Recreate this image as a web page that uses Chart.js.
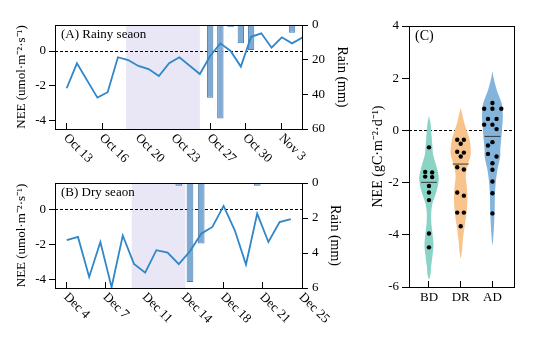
<!DOCTYPE html>
<html>
<head>
<meta charset="utf-8">
<script src="https://cdn.jsdelivr.net/npm/chart.js@4.4.1/dist/chart.umd.min.js"></script>
<style>
  html, body { margin: 0; padding: 0; background: #fff; }
  #wrap { position: relative; width: 554px; height: 339px; overflow: hidden; }
  canvas { position: absolute; }
</style>
</head>
<body>
<div id="wrap">
  <canvas id="rainy" width="360" height="170" style="left:0;top:0"></canvas>
  <canvas id="dry" width="360" height="169" style="left:0;top:170px"></canvas>
  <canvas id="violin" width="194" height="339" style="left:360px;top:0"></canvas>
</div>
<script>
// --- (A) rainy season, day 0 = Oct 13 ---
const rainyDays = [0, 1, 3, 4, 5, 6, 7, 8, 9, 10, 11, 13, 14, 15, 16, 17, 18, 19, 20, 21, 22, 23];
const rainyNEE = [-2.15, -0.71, -2.69, -2.38, -0.36, -0.52, -0.86, -1.04, -1.44, -0.71, -0.36,
                  -1.33, -0.29, 0.44, 0.0, -0.9, 0.82, 1.02, 0.19, 0.79, 0.44, 0.77];
const rainyRainDays = [13, 14, 15, 16, 17, 18, 22];
const rainyRain = [0.3, 42, 54, 1.3, 10.6, 14.4, 4.4];
const rainyTickDays = [0, 3.5, 7, 10.5, 14, 17.5, 21];
const rainyTickLabels = ['Oct 13', 'Oct 16', 'Oct 20', 'Oct 23', 'Oct 27', 'Oct 30', 'Nov 3'];
const rainyShade = [5.8, 13];

// --- (B) dry season, day 0 = Dec 4 ---
const dryDays = [0, 1, 2, 3, 4, 5, 6, 7, 8, 9, 10, 11, 12, 13, 14, 15, 16, 17, 18, 19, 20];
const dryNEE = [-1.77, -1.58, -3.87, -1.87, -4.45, -1.5, -3.12, -3.62, -2.34, -2.48, -3.14,
                -2.4, -1.4, -1.01, 0.19, -1.2, -3.16, -0.25, -1.87, -0.73, -0.57];
const dryRainDays = [10, 11, 12, 17];
const dryRain = [0.15, 5.65, 3.45, 0.15];
const dryTickDays = [0, 3.5, 7, 10.5, 14, 17.5, 21];
const dryTickLabels = ['Dec 4', 'Dec 7', 'Dec 11', 'Dec 14', 'Dec 18', 'Dec 21', 'Dec 25'];
const dryShade = [5.8, 10.6];

// --- (C) daily NEE by period ---
const groups = ['BD', 'DR', 'AD'];
const bdNEE = [-0.65, -1.59, -1.61, -1.77, -1.79, -2.13, -2.38, -2.67, -3.95, -4.48];
const bdJitter = [0, -0.12, 0.1, -0.12, 0.1, 0, 0, 0, 0, 0];
const drNEE = [-0.36, -0.36, -0.51, -0.82, -0.85, -1.0, -1.41, -1.5, -2.38, -2.5, -3.15, -3.15, -3.67];
const drJitter = [-0.11, 0.1, 0, -0.11, 0.1, 0, -0.11, 0.1, -0.11, 0.1, -0.11, 0.1, 0];
const adNEE = [1.05, 0.83, 0.83, 0.83, 0.44, 0.44, 0.22, 0.22, 0.05, -0.45, -0.58, -0.9, -1.0,
               -1.26, -1.51, -1.96, -2.41, -3.18];
const adJitter = [0, -0.26, 0, 0.28, -0.14, 0.13, -0.26, 0, 0.13, 0, -0.14, -0.14, 0.13,
                  0, 0, 0, 0, 0];
const medians = [-1.99, -1.29, -0.23];

// violin outlines: NEE levels and relative density (1 = widest)
const bdLevels = [0.57, 0.2, -0.3, -0.65, -0.9, -1.25, -1.6, -1.85, -2.1, -2.4, -2.8, -3.2, -3.6, -3.95, -4.4, -4.8, -5.2, -5.5, -5.7];
const bdDensity = [0, 0.17, 0.27, 0.34, 0.39, 0.63, 0.87, 0.95, 0.87, 0.68, 0.34, 0.21, 0.24, 0.34, 0.44, 0.34, 0.21, 0.15, 0];
const drLevels = [0.86, 0.6, 0.3, 0, -0.3, -0.6, -0.9, -1.2, -1.5, -1.8, -2.2, -2.7, -3.2, -3.7, -4.2, -4.6, -4.9];
const drDensity = [0, 0.17, 0.34, 0.58, 0.83, 0.95, 0.97, 0.78, 0.58, 0.49, 0.61, 0.65, 0.56, 0.37, 0.21, 0.13, 0];
const adLevels = [2.27, 1.95, 1.57, 1.31, 1.05, 0.8, 0.4, 0, -0.4, -0.75, -1.0, -1.5, -2.0, -2.5, -3.0, -3.5, -4.0, -4.4];
const adDensity = [0, 0.15, 0.41, 0.65, 0.89, 0.99, 1, 0.92, 0.84, 0.76, 0.76, 0.49, 0.32, 0.24, 0.22, 0.17, 0.1, 0];

const SERIF = '"Liberation Serif", "Times New Roman", serif';
Chart.defaults.font.family = SERIF;
Chart.defaults.font.size = 13;
Chart.defaults.color = '#000';

const LINE_BLUE = '#2f86c9';
const BAR_FILL = '#7eaad3';
const BAR_EDGE = '#4b7cab';

// shading, zero line, box frame, panel tag and slanted date labels
function panelDecor(cfg) {
  return {
    id: 'panelDecor',
    beforeDatasetsDraw(chart) {
      const {ctx, chartArea: a, scales} = chart;
      ctx.save();
      if (cfg.shade) {
        const x0 = scales.x.getPixelForValue(cfg.shade[0]);
        const x1 = scales.x.getPixelForValue(cfg.shade[1]);
        ctx.fillStyle = '#e9e7f5';
        ctx.fillRect(x0, a.top, x1 - x0, a.bottom - a.top);
      }
      const y0 = Math.round(scales.y.getPixelForValue(0)) + 0.5;
      ctx.strokeStyle = '#000';
      ctx.lineWidth = 1;
      ctx.setLineDash([3, 2]);
      ctx.beginPath();
      ctx.moveTo(a.left, y0);
      ctx.lineTo(a.right, y0);
      ctx.stroke();
      ctx.restore();
    },
    afterDraw(chart) {
      const {ctx, chartArea: a, scales} = chart;
      ctx.save();
      ctx.strokeStyle = '#000';
      ctx.lineWidth = 1;
      ctx.strokeRect(Math.round(a.left) + 0.5, Math.round(a.top) + 0.5,
                     Math.round(a.right - a.left), Math.round(a.bottom - a.top));
      ctx.fillStyle = '#000';
      ctx.font = (cfg.tagSize || 13) + 'px ' + SERIF;
      ctx.textAlign = 'left';
      ctx.textBaseline = 'middle';
      ctx.fillText(cfg.tag, a.left + 6, a.top + 10);
      if (cfg.tickDays) {
        ctx.font = '13px ' + SERIF;
        cfg.tickDays.forEach((d, i) => {
          const x = scales.x.getPixelForValue(d);
          ctx.save();
          ctx.translate(x - 1, a.bottom + 7);
          ctx.rotate(Math.PI / 4);
          ctx.fillText(cfg.tickLabels[i], 0, 0);
          ctx.restore();
        });
      }
      ctx.restore();
    }
  };
}

function seasonChart(id, o) {
  return new Chart(document.getElementById(id), {
    type: 'line',
    data: {
      datasets: [
        {
          data: o.days.map((d, i) => ({x: d, y: o.nee[i]})),
          borderColor: LINE_BLUE,
          borderWidth: 1.8,
          pointRadius: 0,
          yAxisID: 'y',
          order: 1
        },
        {
          type: 'bar',
          data: o.rainDays.map((d, i) => ({x: d, y: o.rain[i]})),
          backgroundColor: BAR_FILL,
          borderColor: BAR_EDGE,
          borderWidth: 1,
          categoryPercentage: 0.8,
          barPercentage: o.barPct,
          yAxisID: 'y1',
          order: 2
        }
      ]
    },
    options: {
      responsive: false,
      animation: false,
      layout: {padding: {top: o.top, left: 0, right: 0, bottom: 0}},
      plugins: {legend: {display: false}, tooltip: {enabled: false}},
      scales: {
        x: {
          type: 'linear',
          offset: false,
          min: o.xMin,
          max: o.xMax,
          afterBuildTicks: s => { s.ticks = o.tickDays.map(v => ({value: v})); },
          ticks: {display: false},
          grid: {offset: false, drawOnChartArea: false, tickLength: -6, color: '#000'},
          border: {color: '#000'},
          afterFit: s => { s.height = o.xHeight; }
        },
        y: {
          position: 'left',
          min: -4.5,
          max: 1.5,
          afterBuildTicks: s => { s.ticks = [-4, -2, 0].map(v => ({value: v})); },
          ticks: {padding: 3},
          grid: {drawOnChartArea: false, tickLength: 6, color: '#000'},
          border: {color: '#000'},
          title: {display: true, text: 'NEE (umol·m⁻²·s⁻¹)', font: {size: 13}, padding: {top: 14}},
          afterFit: s => { s.width = 55; }
        },
        y1: {
          position: 'right',
          reverse: true,
          min: 0,
          max: o.rainMax,
          ticks: {stepSize: o.rainStep, padding: 4},
          grid: {drawOnChartArea: false, tickLength: 6, color: '#000'},
          border: {color: '#000'},
          title: {display: true, text: 'Rain (mm)', font: {size: 14}, padding: {top: o.rainPad}},
          afterFit: s => { s.width = 58; }
        }
      }
    },
    plugins: [panelDecor({shade: o.shade, tag: o.tag, tickDays: o.tickDays, tickLabels: o.tickLabels})]
  });
}

seasonChart('rainy', {
  days: rainyDays, nee: rainyNEE, rainDays: rainyRainDays, rain: rainyRain,
  tickDays: rainyTickDays, tickLabels: rainyTickLabels, shade: rainyShade,
  xMin: -1.14, xMax: 22.97, rainMax: 60, rainStep: 20, barPct: 0.78,
  top: 25, xHeight: 41, rainPad: 10, tag: '(A) Rainy seaon'
});

seasonChart('dry', {
  days: dryDays, nee: dryNEE, rainDays: dryRainDays, rain: dryRain,
  tickDays: dryTickDays, tickLabels: dryTickLabels, shade: dryShade,
  xMin: -1.05, xMax: 21, rainMax: 6, rainStep: 2, barPct: 0.75,
  top: 13, xHeight: 51, rainPad: 17, tag: '(B) Dry seaon'
});

// --- (C) violins ---
const VIOLIN_HALF = 0.325;
const violinColors = ['#8ad4c6', '#f9c38c', '#83b4dc'];
const levelSets = [bdLevels, drLevels, adLevels];
const densitySets = [bdDensity, drDensity, adDensity];
const dotSets = [[bdNEE, bdJitter], [drNEE, drJitter], [adNEE, adJitter]];

const violinDatasets = groups.map((g, gi) => {
  const c = gi + 1;
  const lv = levelSets[gi], dn = densitySets[gi];
  const right = lv.map((v, i) => ({x: c + dn[i] * VIOLIN_HALF, y: v}));
  const left = lv.map((v, i) => ({x: c - dn[i] * VIOLIN_HALF, y: v})).reverse().slice(1);
  return {
    label: g,
    data: right.concat(left),
    fill: 'shape',
    backgroundColor: violinColors[gi],
    borderWidth: 0,
    pointRadius: 0,
    tension: 0.3,
    order: 3
  };
});

const medianDatasets = medians.map((m, gi) => ({
  data: [{x: gi + 1 - 0.25, y: m}, {x: gi + 1 + 0.25, y: m}],
  borderColor: '#3a3a3a',
  borderWidth: 1,
  pointRadius: 0,
  order: 2
}));

const dotDataset = {
  data: dotSets.flatMap(([vals, jit], gi) => vals.map((v, i) => ({x: gi + 1 + jit[i], y: v}))),
  showLine: false,
  pointRadius: 2.2,
  pointBackgroundColor: '#000',
  pointBorderWidth: 0,
  order: 1
};

new Chart(document.getElementById('violin'), {
  type: 'line',
  data: {datasets: [...violinDatasets, ...medianDatasets, dotDataset]},
  options: {
    responsive: false,
    animation: false,
    layout: {padding: {top: 26, left: 0, right: 40, bottom: 0}},
    plugins: {legend: {display: false}, tooltip: {enabled: false}},
    scales: {
      x: {
        type: 'linear',
        min: 0.37,
        max: 3.68,
        afterBuildTicks: s => { s.ticks = [1, 2, 3].map(v => ({value: v})); },
        ticks: {callback: v => groups[v - 1], maxRotation: 0, padding: 9, font: {size: 13}},
        grid: {drawOnChartArea: false, tickLength: -6, color: '#000'},
        border: {color: '#000'},
        afterFit: s => { s.height = 52; }
      },
      y: {
        min: -6,
        max: 4,
        ticks: {stepSize: 2, padding: 3},
        grid: {drawOnChartArea: false, tickLength: 7, color: '#000'},
        border: {color: '#000'},
        title: {display: true, text: 'NEE (gC·m⁻²·d⁻¹)', font: {size: 14}, padding: {top: 10}},
        afterFit: s => { s.width = 49; }
      }
    }
  },
  plugins: [panelDecor({tag: '(C)', tagSize: 14})]
});
</script>
</body>
</html>
